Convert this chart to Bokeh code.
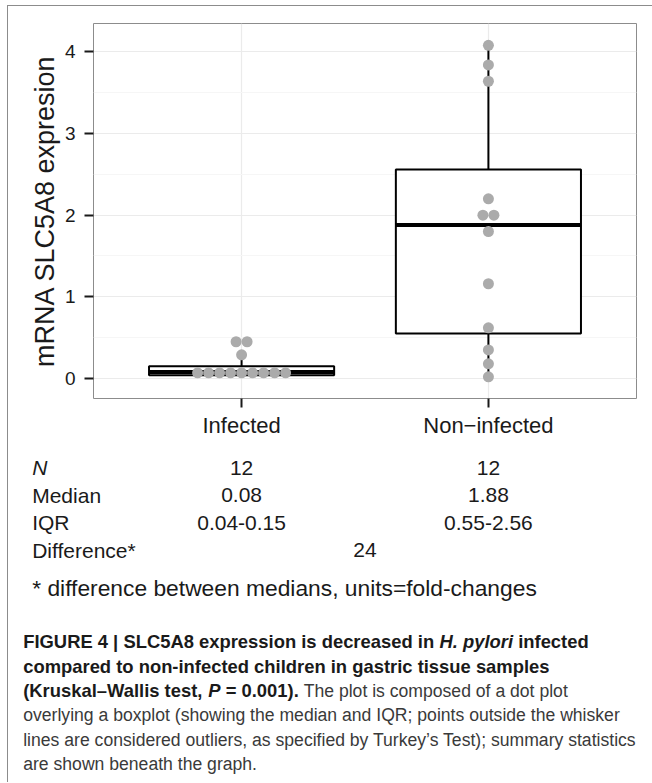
from bokeh.plotting import figure
from bokeh.layouts import column
from bokeh.models import Range1d, FixedTicker, Label
from bokeh.embed import file_html
from bokeh.resources import INLINE

# ---------------- data ----------------
categories = ["Infected", "Non−infected"]
infected_values = [0.07, 0.07, 0.07, 0.07, 0.07, 0.07, 0.07, 0.07, 0.07, 0.29, 0.45, 0.45]
noninfected_values = [0.02, 0.18, 0.35, 0.62, 1.16, 1.80, 2.00, 2.00, 2.20, 3.64, 3.84, 4.08]
box_q1 = [0.04, 0.55]
box_median = [0.08, 1.88]
box_q3 = [0.15, 2.56]
whisker_low = [0.03, 0.02]
whisker_high = [0.29, 4.08]
y_ticks = [0, 1, 2, 3, 4]
y_minor_ticks = [0.5, 1.5, 2.5, 3.5]
y_label = "mRNA SLC5A8 expresion"

stat_names = ["N", "Median", "IQR", "Difference*"]
infected_stats = ["12", "0.08", "0.04-0.15"]
noninfected_stats = ["12", "1.88", "0.55-2.56"]
difference_value = "24"
footnote = "* difference between medians, units=fold-changes"

caption_lines = [
    [("bold", "FIGURE 4 | SLC5A8 expression is decreased in "), ("bold italic", "H. pylori"), ("bold", " infected")],
    [("bold", "compared to non-infected children in gastric tissue samples")],
    [("bold", "(Kruskal–Wallis test, "), ("bold italic", "P"), ("bold", " = 0.001)."),
     ("normal", " The plot is composed of a dot plot")],
    [("normal", "overlying a boxplot (showing the median and IQR; points outside the whisker")],
    [("normal", "lines are considered outliers, as specified by Turkey’s Test); summary statistics")],
    [("normal", "are shown beneath the graph.")],
]

# ---------------- layout constants (page pixels) ----------------
OX, OY = 8, 6            # content origin on the page (after margin + border)
W = 644
H1 = 444                 # plot figure height
H2 = 332                 # text figure height
ML, MR, MT = 85, 16, 17
FW = W - ML - MR
FH = 375
MB = H1 - MT - FH
X0, X1 = 0.4, 2.6
Y0, Y1 = -0.245, 4.347
FONT = "Liberation Sans"
INK = "#1a1a1a"


def page_x_of(xv):
    return OX + ML + (xv - X0) * FW / (X1 - X0)


p = figure(width=W, height=H1, x_range=Range1d(X0, X1), y_range=Range1d(Y0, Y1),
           output_backend="svg", toolbar_location=None,
           min_border_left=ML, min_border_right=MR, min_border_top=MT, min_border_bottom=MB)
p.frame_align = False
p.background_fill_color = "white"
p.border_fill_color = "white"
p.outline_line_color = "#8c8c8c"
p.outline_line_width = 1

# axes
cat_pos = [i + 1 for i in range(len(categories))]
p.xaxis.ticker = FixedTicker(ticks=cat_pos)
p.xaxis.major_label_overrides = {pos: c for pos, c in zip(cat_pos, categories)}
p.yaxis.ticker = FixedTicker(ticks=y_ticks, minor_ticks=y_minor_ticks)
p.yaxis.axis_label = y_label
for ax in (p.xaxis, p.yaxis):
    ax.axis_line_color = None
    ax.major_tick_in = 0
    ax.major_tick_out = 9
    ax.major_tick_line_width = 2
    ax.major_tick_line_color = INK
    ax.minor_tick_line_color = None
    ax.major_label_text_font = FONT
    ax.major_label_text_color = INK
p.xaxis.major_label_text_font_size = "22px"
p.xaxis.major_label_standoff = 5
p.yaxis.major_label_text_font_size = "19px"
p.yaxis.major_label_standoff = 9
p.yaxis.axis_label_text_font = FONT
p.yaxis.axis_label_text_font_size = "27px"
p.yaxis.axis_label_text_font_style = "normal"
p.yaxis.axis_label_text_color = INK
p.yaxis.axis_label_standoff = 2

p.ygrid.grid_line_color = "#ebebeb"
p.ygrid.grid_line_width = 1.2
p.ygrid.minor_grid_line_color = "#f6f6f6"
p.ygrid.minor_grid_line_width = 1
p.xgrid.grid_line_color = "#ebebeb"
p.xgrid.grid_line_width = 1.2

# boxes
half = 0.375
lefts = [c - half for c in cat_pos]
rights = [c + half for c in cat_pos]
p.segment(x0=cat_pos, x1=cat_pos, y0=whisker_low, y1=box_q1, line_color="black", line_width=2)
p.segment(x0=cat_pos, x1=cat_pos, y0=box_q3, y1=whisker_high, line_color="black", line_width=2)
p.quad(left=lefts, right=rights, bottom=box_q1, top=box_q3,
       fill_color="white", line_color="black", line_width=2)
p.segment(x0=lefts, x1=rights, y0=box_median, y1=box_median, line_color="black", line_width=4)

# dot plot (centered stacks)
DOT_PX = 11
step = DOT_PX * (X1 - X0) / FW


def stack_offsets(vals):
    counts = {}
    for v in vals:
        counts[v] = counts.get(v, 0) + 1
    seen, out = {}, []
    for v in vals:
        k = seen.get(v, 0)
        seen[v] = k + 1
        out.append((k - (counts[v] - 1) / 2) * step)
    return out


for pos, vals in zip(cat_pos, [infected_values, noninfected_values]):
    xs = [pos + o for o in stack_offsets(vals)]
    p.scatter(x=xs, y=vals, marker="circle", size=DOT_PX, fill_color="#ababab", line_color=None)

# ---------------- text figure (summary table + caption), page-pixel ranges ----------------
TOP2 = OY + H1
t = figure(width=W, height=H2, x_range=Range1d(OX, OX + W), y_range=Range1d(TOP2 + H2, TOP2),
           output_backend="svg", toolbar_location=None, x_axis_type=None, y_axis_type=None,
           min_border=0, min_border_left=0, min_border_right=0, min_border_top=0, min_border_bottom=0)
t.frame_align = False
t.outline_line_color = None
t.background_fill_color = "white"
t.border_fill_color = "white"
t.grid.visible = False


def add_text(x, y, text, size, style="normal", align="left", color=INK):
    t.add_layout(Label(x=x, y=y, text=text, text_font=FONT, text_font_size=f"{size}px",
                       text_font_style=style, text_color=color, text_align=align,
                       text_baseline="alphabetic"))


TAB_FS = 21
row_baselines = [467, 494.5, 522, 549.5]
label_x = 31.7
for i, name in enumerate(stat_names):
    add_text(label_x, row_baselines[i], name, TAB_FS, "italic" if name == "N" else "normal")
for i in range(len(infected_stats)):
    for pos, vals in zip(cat_pos, [infected_stats, noninfected_stats]):
        add_text(page_x_of(pos), row_baselines[i], vals[i], TAB_FS, align="center")
add_text(page_x_of(sum(cat_pos) / 2), row_baselines[3], difference_value, TAB_FS, align="center")
add_text(label_x, 587, footnote, 22.8)

# caption
BOLD = {'F': 611, 'I': 278, 'G': 778, 'U': 722, 'R': 722, 'E': 667, ' ': 278, '4': 556, '|': 280,
        'S': 667, 'L': 611, 'C': 722, '5': 556, 'A': 722, '8': 556, 'e': 556, 'x': 556, 'p': 611,
        'r': 389, 's': 556, 'i': 278, 'o': 611, 'n': 611, 'd': 611, 'c': 556, 'a': 556, 'H': 722,
        '.': 278, 'y': 556, 'l': 278, '(': 333, 'K': 722, 'u': 611, '–': 556, 'W': 944, 't': 333,
        ',': 278, 'P': 667, '=': 584, '0': 556, '1': 556, ')': 333, 'f': 333}
CAP_BOLD_FS = 18.4
CAP_REG_FS = 17.6
cap_x0 = 22.7
cap_base0 = 641
cap_lead = 24.5
for li, segs in enumerate(caption_lines):
    xpos = cap_x0
    base = cap_base0 + li * cap_lead
    for style, txt in segs:
        bold = "bold" in style
        fs = CAP_BOLD_FS if bold else CAP_REG_FS
        # leading spaces are collapsed by the renderer: advance by their width instead
        stripped = txt.lstrip(" ")
        lead = len(txt) - len(stripped)
        xpos += lead * 278 * fs / 1000.0
        add_text(xpos, base, stripped, fs, style, color=INK if bold else "#3a3a3a")
        if bold:
            xpos += sum(BOLD.get(ch, 556) for ch in stripped) * fs / 1000.0

layout = column(p, t, spacing=0)
layout.styles = {"margin-left": "6.5px", "margin-top": "4.5px",
                 "border-left": "1.5px solid #8c8c8c", "border-top": "1.5px solid #8c8c8c"}

open("out.html", "w").write(file_html(layout, INLINE))
